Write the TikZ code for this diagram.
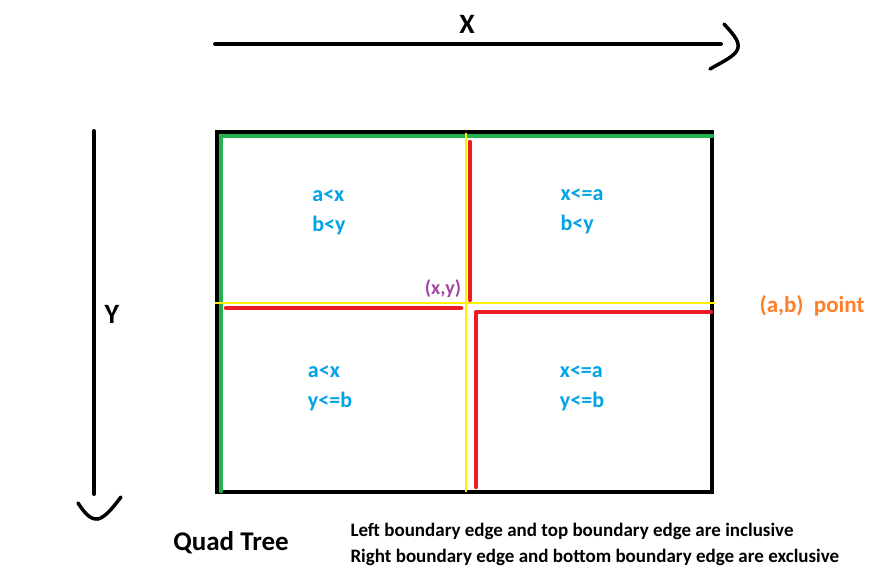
\documentclass[tikz,border=0pt]{standalone}
\usepackage{fontspec}
\setmainfont{Carlito}
\definecolor{pgreen}{HTML}{22B14C}
\definecolor{pred}{HTML}{ED1C24}
\definecolor{pyellow}{HTML}{FFF200}
\definecolor{pblue}{HTML}{00A2E8}
\definecolor{ppurple}{HTML}{A349A4}
\definecolor{porange}{HTML}{FF7F27}
\begin{document}
\begin{tikzpicture}[x=1pt,y=-1pt,
  axis/.style={line width=4pt,line cap=round,line join=round},
  cond/.style={text=pblue,font=\fontsize{22}{30}\selectfont\bfseries,align=left},
  grn/.style={pgreen,line width=4.5pt,line cap=round},
  ylw/.style={pyellow,line width=2.5pt},
  rd/.style={pred,line width=4.5pt,line cap=round,line join=round}]
\useasboundingbox[fill=white] (0,0) rectangle (892,568);
% X axis
\coordinate (xs) at (215,44);
\coordinate (xe) at (721,44);
\draw[axis] (xs) -- (xe);
\draw[axis,line width=3.5pt] (724,24) .. controls (735,36) and (742,44) .. (736,52) .. controls (730,59) and (720,63) .. (710,69);
\node[font=\fontsize{28}{30}\selectfont\bfseries] (xl) at (467,24) {X};
% Y axis
\coordinate (ys) at (94,131);
\coordinate (ye) at (94,494);
\draw[axis] (ys) -- (ye);
\draw[axis,line width=3.5pt] (78,503) .. controls (84,512) and (90,520) .. (98,519) .. controls (106,517) and (114,506) .. (121,497);
\node[font=\fontsize{28}{30}\selectfont\bfseries] (yl) at (112,314) {Y};
% box
\draw[line width=4.5pt] (217,132) rectangle (712,492);
\draw[grn] (221,136) -- (712,136);
\draw[grn] (221,136) -- (221,491);
% yellow dividers
\draw[ylw] (215,303) -- (715,303);
\draw[ylw] (466,133) -- (466,492);
% red edges
\draw[rd] (470,142) -- (470,300);
\draw[rd] (226,308) -- (461,308);
\draw[rd] (476,487) -- (476,312) -- (711,312);
% labels
\node[cond] (q1) at (329,212) {a<x\\b<y};
\node[cond] (q2) at (582,211) {x<=a\\b<y};
\node[cond] (q3) at (330,388) {a<x\\y<=b};
\node[cond] (q4) at (582,388) {x<=a\\y<=b};
\node[text=ppurple,font=\fontsize{20}{24}\selectfont\bfseries] (xy) at (443,289) {(x,y)};
\node[text=porange,font=\fontsize{23}{24}\selectfont\bfseries] (ab) at (812,306) {(a,b)\ \ point};
\node[font=\fontsize{27}{28}\selectfont\bfseries] (qt) at (231,543) {Quad Tree};
\node[font=\fontsize{19}{26}\selectfont\bfseries,align=left,anchor=west] (note) at (347,544) {Left boundary edge and top boundary edge are inclusive\\Right boundary edge and bottom boundary edge are exclusive};
\end{tikzpicture}
\end{document}
